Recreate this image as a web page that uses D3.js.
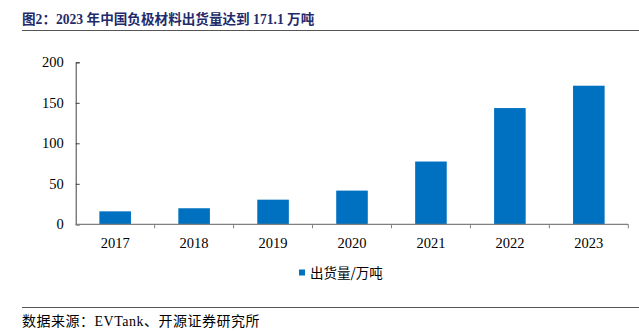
<!DOCTYPE html>
<html>
<head>
<meta charset="utf-8">
<script src="https://cdn.jsdelivr.net/npm/d3@7"></script>
<style>
html, body { margin: 0; padding: 0; background: #fff; }
svg { display: block; }
</style>
</head>
<body>
<svg id="chart" width="639" height="334"></svg>
<script>
const categories = ["2017", "2018", "2019", "2020", "2021", "2022", "2023"];
const values = [16.0, 19.8, 30.4, 41.6, 77.5, 143.5, 171.1];
const yTicks = [0, 50, 100, 150, 200];
const seriesName = "出货量/万吨";
const titleText = "图2：2023 年中国负极材料出货量达到 171.1 万吨";
const sourceText = "数据来源：EVTank、开源证券研究所";

const svg = d3.select("#chart");
const serif = "'Liberation Serif', 'Times New Roman', 'Noto Sans CJK SC', serif";
const barColor = "#0070C0";

// Title
svg.append("text")
  .attr("x", 22).attr("y", 23.5)
  .attr("font-family", serif)
  .attr("font-size", 13.6).attr("font-weight", "bold")
  .attr("fill", "#1F2B6B")
  .text(titleText);
svg.append("line")
  .attr("x1", 22).attr("x2", 639).attr("y1", 30.5).attr("y2", 30.5)
  .attr("stroke", "#555").attr("stroke-width", 1.2);

// Scales
const x = d3.scaleBand().domain(categories).range([75.7, 628.3]).paddingInner(0.6).paddingOuter(0.3);
const y = d3.scaleLinear().domain([0, 200]).range([224.3, 62.3]);

// Bars
svg.append("g").selectAll("rect").data(values).join("rect")
  .attr("x", (d, i) => x(categories[i]))
  .attr("width", x.bandwidth())
  .attr("y", d => y(d))
  .attr("height", d => y(0) - y(d))
  .attr("fill", barColor);

// Y axis
const yAxis = d3.axisLeft(y).tickValues(yTicks).tickSize(-4).tickPadding(12).tickFormat(d3.format("d"));
const gy = svg.append("g").attr("transform", "translate(75.7,0)").call(yAxis);
gy.select(".domain").attr("stroke", "#404040");
gy.selectAll(".tick line").attr("stroke", "#404040");
gy.selectAll("text").attr("font-family", serif).attr("font-size", 14.5).attr("fill", "#000");

// X axis: ticks at category boundaries
const bounds = d3.range(categories.length + 1).map(i => 75.7 + i * x.step());
const gx = svg.append("g");
gx.append("line")
  .attr("x1", bounds[0]).attr("x2", bounds[bounds.length - 1])
  .attr("y1", y(0)).attr("y2", y(0))
  .attr("stroke", "#808080").attr("stroke-width", 1.2);
gx.selectAll("line.tk").data(bounds.slice(1)).join("line").attr("class", "tk")
  .attr("x1", d => d).attr("x2", d => d)
  .attr("y1", y(0)).attr("y2", y(0) + 4)
  .attr("stroke", "#808080");
gx.selectAll("text").data(categories).join("text")
  .attr("x", d => x(d) + x.bandwidth() / 2)
  .attr("y", 247.5)
  .attr("text-anchor", "middle")
  .attr("font-family", serif).attr("font-size", 14.5).attr("fill", "#000")
  .text(d => d);

// Legend
svg.append("rect").attr("x", 299).attr("y", 269.5).attr("width", 6).attr("height", 6).attr("fill", barColor);
svg.append("text")
  .attr("x", 310).attr("y", 277.5)
  .attr("font-family", "'Noto Sans CJK SC', sans-serif")
  .attr("font-size", 13.5).attr("fill", "#000")
  .text(seriesName);

// Source
svg.append("line")
  .attr("x1", 22).attr("x2", 639).attr("y1", 307.5).attr("y2", 307.5)
  .attr("stroke", "#555").attr("stroke-width", 1.2);
svg.append("text")
  .attr("x", 22).attr("y", 326)
  .attr("font-family", serif)
  .attr("font-size", 14).attr("letter-spacing", 0.5).attr("fill", "#000")
  .text(sourceText);
</script>
</body>
</html>
